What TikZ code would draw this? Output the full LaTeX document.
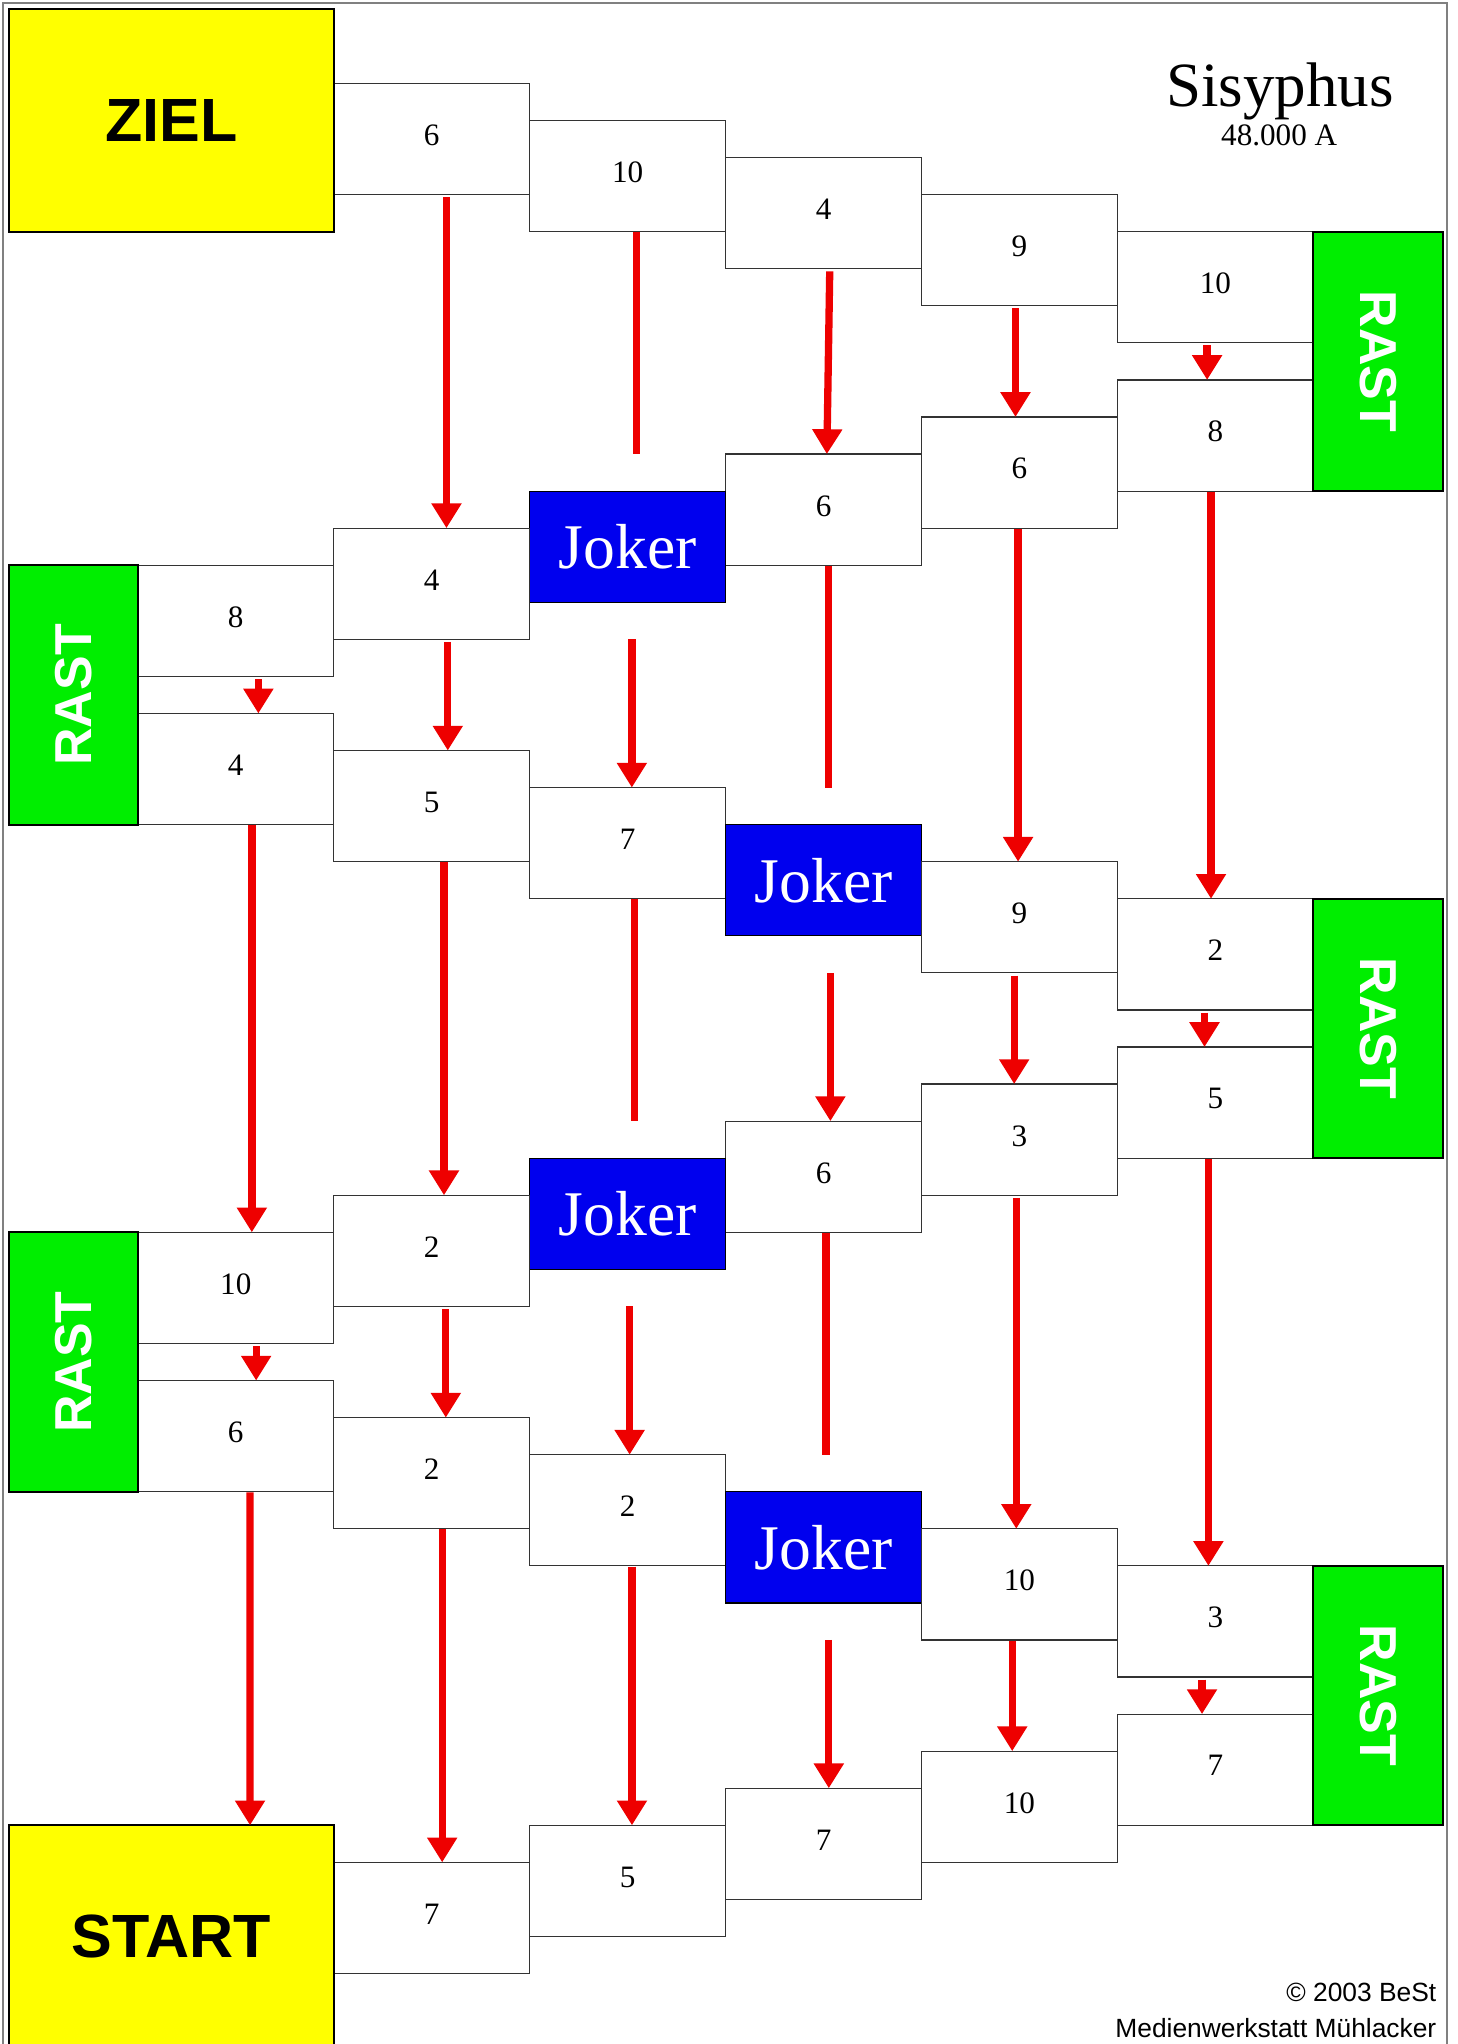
\documentclass[tikz,border=0pt]{standalone}
\usepackage{fontspec}
\usepackage{graphicx}
\setmainfont{Liberation Serif}
\setsansfont{Liberation Sans}
\usetikzlibrary{arrows.meta}

\definecolor{goalyellow}{RGB}{255,255,0}
\definecolor{restgreen}{RGB}{0,238,0}
\definecolor{jokerblue}{RGB}{0,0,238}
\definecolor{pathred}{RGB}{238,0,0}
\definecolor{framegray}{RGB}{128,128,128}

% board grid: column left edges and row tops (in bp)
\newcommand\colx[1]{105.7+150.3*(#1)}
\newcommand\rowy[1]{64+28.43*(#1)}

\begin{document}
\begin{tikzpicture}[x=1bp,y=-1bp,
  cell/.style={draw=black!80, line width=0.9bp, fill=white,
    minimum width=150.3bp, minimum height=85.29bp, inner sep=0pt, outer sep=0pt,
    anchor=north west, text depth=6bp, font=\fontsize{24}{24}\selectfont},
  joker/.style={cell, fill=jokerblue, draw=black, text=white, text depth=0pt,
    font=\fontsize{49}{49}\selectfont},
  goal/.style={draw=black, line width=1.5bp, fill=goalyellow,
    minimum width=249bp, minimum height=170.58bp, inner sep=0pt, outer sep=0pt,
    anchor=north west, font=\sffamily\bfseries\fontsize{47}{47}\selectfont},
  rest/.style={draw=black, line width=1.5bp, fill=restgreen,
    minimum height=199.01bp, inner sep=0pt, outer sep=0pt, anchor=north west,
    text=white, font=\sffamily\bfseries\fontsize{40}{40}\selectfont},
  arr/.style={draw=pathred, line width=5.6bp, -{Triangle[width=22bp,length=19bp]}},
  bar/.style={draw=pathred, line width=5.6bp}
]
\useasboundingbox (0,0) rectangle (1118,1568);
\clip (0,0) rectangle (1118,1568);
\fill[white] (0,0) rectangle (1118,1568);

% page frame (open at the bottom edge)
\draw[framegray, line width=1.5bp] (2,1570) -- (2,2) -- (1110,2) -- (1110,1570);

% title
\node[anchor=base, inner sep=0pt, font=\fontsize{48.5}{48.5}\selectfont] (title) at (982,81.4) {Sisyphus};
\node[anchor=base, inner sep=0pt, font=\fontsize{24}{24}\selectfont] (subtitle) at (981.3,111.8) {48.000 A};

% fields, walking the zig-zag track
\node[cell]  (b01) at ({\colx{1}},{\rowy{0}})  {6};
\node[cell]  (b02) at ({\colx{2}},{\rowy{1}})  {10};
\node[cell]  (b03) at ({\colx{3}},{\rowy{2}})  {4};
\node[cell]  (b04) at ({\colx{4}},{\rowy{3}})  {9};
\node[cell]  (b05) at ({\colx{5}},{\rowy{4}})  {10};
\node[cell]  (b06) at ({\colx{5}},{\rowy{8}})  {8};
\node[cell]  (b07) at ({\colx{4}},{\rowy{9}})  {6};
\node[cell]  (b08) at ({\colx{3}},{\rowy{10}}) {6};
\node[joker] (j1)  at ({\colx{2}},{\rowy{11}}) {Joker};
\node[cell]  (b09) at ({\colx{1}},{\rowy{12}}) {4};
\node[cell]  (b10) at ({\colx{0}},{\rowy{13}}) {8};
\node[cell]  (b11) at ({\colx{0}},{\rowy{17}}) {4};
\node[cell]  (b12) at ({\colx{1}},{\rowy{18}}) {5};
\node[cell]  (b13) at ({\colx{2}},{\rowy{19}}) {7};
\node[joker] (j2)  at ({\colx{3}},{\rowy{20}}) {Joker};
\node[cell]  (b14) at ({\colx{4}},{\rowy{21}}) {9};
\node[cell]  (b15) at ({\colx{5}},{\rowy{22}}) {2};
\node[cell]  (b16) at ({\colx{5}},{\rowy{26}}) {5};
\node[cell]  (b17) at ({\colx{4}},{\rowy{27}}) {3};
\node[cell]  (b18) at ({\colx{3}},{\rowy{28}}) {6};
\node[joker] (j3)  at ({\colx{2}},{\rowy{29}}) {Joker};
\node[cell]  (b19) at ({\colx{1}},{\rowy{30}}) {2};
\node[cell]  (b20) at ({\colx{0}},{\rowy{31}}) {10};
\node[cell]  (b21) at ({\colx{0}},{\rowy{35}}) {6};
\node[cell]  (b22) at ({\colx{1}},{\rowy{36}}) {2};
\node[cell]  (b23) at ({\colx{2}},{\rowy{37}}) {2};
\node[joker] (j4)  at ({\colx{3}},{\rowy{38}}) {Joker};
\node[cell]  (b24) at ({\colx{4}},{\rowy{39}}) {10};
\node[cell]  (b25) at ({\colx{5}},{\rowy{40}}) {3};
\node[cell]  (b26) at ({\colx{5}},{\rowy{44}}) {7};
\node[cell]  (b27) at ({\colx{4}},{\rowy{45}}) {10};
\node[cell]  (b28) at ({\colx{3}},{\rowy{46}}) {7};
\node[cell]  (b29) at ({\colx{2}},{\rowy{47}}) {5};
\node[cell]  (b30) at ({\colx{1}},{\rowy{48}}) {7};

% goal, start and rest fields
\node[goal] (ziel)  at (7,{\rowy{-2}}) {ZIEL};
\node[goal] (start) at (7,{\rowy{47}}) {START};
\node[rest, minimum width=99.5bp] (rast1) at (1007.5,{\rowy{4}})  {\rotatebox{-90}{RAST}};
\node[rest, minimum width=98.7bp] (rast2) at (7,{\rowy{13}})      {\rotatebox{90}{RAST}};
\node[rest, minimum width=99.5bp] (rast3) at (1007.5,{\rowy{22}}) {\rotatebox{-90}{RAST}};
\node[rest, minimum width=98.7bp] (rast4) at (7,{\rowy{31}})      {\rotatebox{90}{RAST}};
\node[rest, minimum width=99.5bp] (rast5) at (1007.5,{\rowy{40}}) {\rotatebox{-90}{RAST}};

% shortcuts (red arrows); the bars stop short of a joker field
\draw[arr] ([xshift=11.35bp,yshift=-2bp]b01.south) -- ([xshift=11.35bp]b09.north);
\draw[bar] ([xshift=6.55bp,yshift=-0.5bp]b02.south) -- ([xshift=6.55bp,yshift=28.43bp]j1.north);
\draw[arr] ([xshift=4.75bp,yshift=-2bp]b03.south) -- ([xshift=2.55bp]b08.north);
\draw[arr] ([xshift=-3.05bp,yshift=-2bp]b04.south) -- ([xshift=-3.05bp]b07.north);
\draw[arr] ([xshift=-6.35bp,yshift=-2bp]b05.south) -- ([xshift=-6.35bp]b06.north);

\draw[arr] ([xshift=12.35bp,yshift=-2bp]b09.south) -- ([xshift=12.35bp]b12.north);
\draw[arr] ([xshift=17.35bp,yshift=-2bp]b10.south) -- ([xshift=17.35bp]b11.north);
\draw[arr] ([xshift=3.25bp,yshift=-28.43bp]j1.south) -- ([xshift=3.25bp]b13.north);
\draw[bar] ([xshift=3.85bp,yshift=-0.5bp]b08.south) -- ([xshift=3.85bp,yshift=28.43bp]j2.north);
\draw[arr] ([xshift=-1.05bp,yshift=-0.5bp]b07.south) -- ([xshift=-1.05bp]b14.north);
\draw[arr] ([xshift=-3.35bp,yshift=-0.5bp]b06.south) -- ([xshift=-3.35bp]b15.north);

\draw[arr] ([xshift=12.35bp,yshift=-0.5bp]b11.south) -- ([xshift=12.35bp]b20.north);
\draw[arr] ([xshift=9.45bp,yshift=-0.5bp]b12.south) -- ([xshift=9.45bp]b19.north);
\draw[bar] ([xshift=5.05bp,yshift=-0.5bp]b13.south) -- ([xshift=5.05bp,yshift=28.43bp]j3.north);
\draw[arr] ([xshift=5.25bp,yshift=-28.43bp]j2.south) -- ([xshift=5.25bp]b18.north);
\draw[arr] ([xshift=-4.05bp,yshift=-2bp]b14.south) -- ([xshift=-4.05bp]b17.north);
\draw[arr] ([xshift=-8.35bp,yshift=-2bp]b15.south) -- ([xshift=-8.35bp]b16.north);

\draw[arr] ([xshift=-5.35bp,yshift=-0.5bp]b16.south) -- ([xshift=-5.35bp]b25.north);
\draw[arr] ([xshift=-2.45bp,yshift=-2bp]b17.south) -- ([xshift=-2.45bp]b24.north);
\draw[bar] ([xshift=1.95bp,yshift=-0.5bp]b18.south) -- ([xshift=1.95bp,yshift=28.43bp]j4.north);
\draw[arr] ([xshift=1.55bp,yshift=-28.43bp]j3.south) -- ([xshift=1.55bp]b23.north);
\draw[arr] ([xshift=10.85bp,yshift=-2bp]b19.south) -- ([xshift=10.85bp]b22.north);
\draw[arr] ([xshift=15.65bp,yshift=-2bp]b20.south) -- ([xshift=15.65bp]b21.north);

\draw[arr] ([xshift=10.95bp,yshift=-0.5bp]b21.south) -- ([xshift=60.3bp]start.north);
\draw[arr] ([xshift=8.05bp,yshift=-0.5bp]b22.south) -- ([xshift=8.05bp]b30.north);
\draw[arr] ([xshift=3.35bp,yshift=-0.5bp]b23.south) -- ([xshift=3.35bp]b29.north);
\draw[arr] ([xshift=4.05bp,yshift=-28.43bp]j4.south) -- ([xshift=4.05bp]b28.north);
\draw[arr] ([xshift=-5.55bp,yshift=-0.5bp]b24.south) -- ([xshift=-5.55bp]b27.north);
\draw[arr] ([xshift=-10.25bp,yshift=-2bp]b25.south) -- ([xshift=-10.25bp]b26.north);

% imprint
\node[anchor=base east, inner sep=0pt, font=\sffamily\fontsize{20.3}{20.3}\selectfont] (copy) at (1102,1535) {© 2003 BeSt};
\node[anchor=base east, inner sep=0pt, font=\sffamily\fontsize{20.3}{20.3}\selectfont] (maker) at (1102,1563) {Medienwerkstatt Mühlacker};
\end{tikzpicture}
\end{document}
